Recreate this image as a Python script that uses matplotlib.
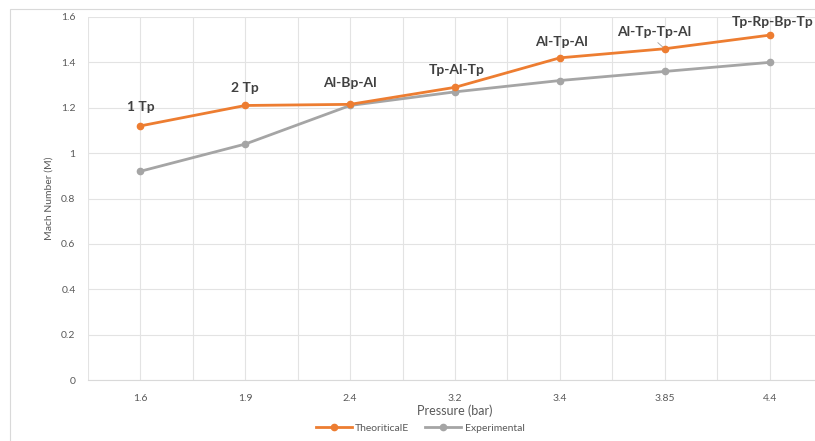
import matplotlib
matplotlib.use("Agg")
import matplotlib.pyplot as plt
from matplotlib.patches import Rectangle
import numpy as np

plt.rcParams["font.family"] = ["Lato", "DejaVu Sans"]

pressures = ["1.6", "1.9", "2.4", "3.2", "3.4", "3.85", "4.4"]
theoretical = [1.12, 1.21, 1.215, 1.29, 1.42, 1.46, 1.52]
experimental = [0.92, 1.04, 1.21, 1.27, 1.32, 1.36, 1.40]
configs = ["1 Tp", "2 Tp", "Al-Bp-Al", "Tp-Al-Tp", "Al-Tp-Al", "Al-Tp-Tp-Al", "Tp-Rp-Bp-Tp"]
# label offsets in pixels (dx, dy) from each orange point
label_offsets = [(0, 19), (0, 17), (0, 21), (2, 17), (2, 16), (-11, 17), (3, 13)]

ORANGE = "#ED7D31"
GRAY = "#A5A5A5"
TEXT = "#595959"
GRID = "#E3E3E3"

fig = plt.figure(figsize=(8.15, 4.41), dpi=100)
fig.patches.append(Rectangle((10 / 815, -0.1), 1.2, 1.1 - 9 / 441,
                             transform=fig.transFigure, fill=False,
                             edgecolor="#D9D9D9", linewidth=0.8))
ax = fig.add_axes([88 / 815, 61 / 441, 734 / 815, 363 / 441])

x = np.arange(len(pressures))
ax.plot(x, theoretical, color=ORANGE, lw=2.0, marker="o", ms=4.5, label="TheoriticalE", zorder=3)
ax.plot(x, experimental, color=GRAY, lw=2.0, marker="o", ms=4.5, label="Experimental", zorder=2)

for xi, yi, lab, (dx, dy) in zip(x, theoretical, configs, label_offsets):
    ax.annotate(lab, (xi, yi), xytext=(dx, dy), textcoords="offset pixels",
                ha="center", va="center", fontsize=10, fontweight="bold", color="#404040")
# small leader line for the Al-Tp-Tp-Al label
ax.annotate("", (5, theoretical[5]), xytext=(-9, 8), textcoords="offset pixels",
            arrowprops=dict(arrowstyle="-", color="#A0A0A0", lw=0.6))

ax.set_xlim(-0.5, len(pressures) - 0.5)
ax.set_ylim(0, 1.6)
ax.set_yticks(np.arange(0, 1.61, 0.2))
ax.set_yticklabels(["0", "0.2", "0.4", "0.6", "0.8", "1", "1.2", "1.4", "1.6"])
ax.set_xticks(x)
ax.set_xticklabels(pressures)
ax.set_xticks(np.arange(-0.5, len(pressures), 1.0), minor=True)
ax.tick_params(axis="both", which="both", length=0, labelsize=7.5, colors=TEXT)
ax.tick_params(axis="y", pad=9)
ax.tick_params(axis="x", pad=10)

ax.grid(axis="y", color=GRID, lw=0.8)
ax.grid(axis="x", which="both", color=GRID, lw=0.8)
ax.set_axisbelow(True)
for s in ["top", "right", "left"]:
    ax.spines[s].set_visible(False)
ax.spines["bottom"].set_color("#D9D9D9")

ax.set_ylabel("Mach Number (M)", fontsize=7.5, color=TEXT, labelpad=5)
ax.set_xlabel("Pressure (bar)", fontsize=9, color=TEXT, labelpad=1)

fig.legend(loc="center", bbox_to_anchor=(420 / 815, 1 - 428 / 441), ncol=2,
           frameon=False, fontsize=7.5, labelcolor=TEXT, handlelength=3.5,
           columnspacing=1.5, handletextpad=0.3)

fig.savefig("out.png", dpi=100)
